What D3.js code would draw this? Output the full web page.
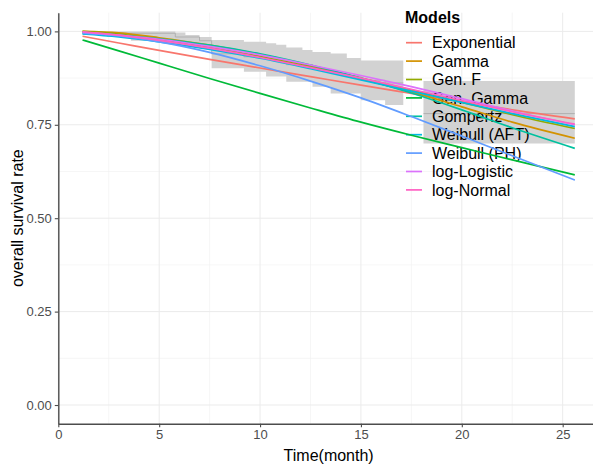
<!DOCTYPE html>
<html>
<head>
<meta charset="utf-8">
<script src="https://cdn.jsdelivr.net/npm/d3@7"></script>
<style>
  html, body { margin: 0; padding: 0; background: #fff; }
  svg { display: block; font-family: "Liberation Sans", Arial, sans-serif; }
</style>
</head>
<body>
<svg id="chart" width="593" height="469"></svg>
<script>
// ---- data ----
const models = ["Exponential", "Gamma", "Gen. F", "Gen. Gamma", "Gompertz",
                "Weibull (AFT)", "Weibull (PH)", "log-Logistic", "log-Normal"];
const colors = ["#F8766D", "#D39200", "#93AA00", "#00BA38", "#00C19F",
                "#00B9E3", "#619CFF", "#DB72FB", "#FF61C3"];
const times = [1.2, 3, 5, 7.5, 10, 12.5, 15, 17.5, 20, 22.5, 25.6];
const exponential = [0.987, 0.969, 0.949, 0.925, 0.902, 0.879, 0.856, 0.834, 0.812, 0.790, 0.766];
const gamma       = [1.000, 0.996, 0.983, 0.963, 0.938, 0.908, 0.873, 0.838, 0.798, 0.757, 0.714];
const genF        = [1.000, 0.993, 0.979, 0.958, 0.933, 0.905, 0.875, 0.843, 0.810, 0.777, 0.740];
const genGamma    = [0.977, 0.948, 0.915, 0.874, 0.834, 0.795, 0.757, 0.722, 0.689, 0.656, 0.616];
const gompertz    = [0.997, 0.990, 0.980, 0.963, 0.940, 0.910, 0.875, 0.835, 0.790, 0.742, 0.687];
const weibullAFT  = [0.993, 0.985, 0.972, 0.952, 0.928, 0.900, 0.870, 0.840, 0.810, 0.780, 0.745];
const weibullPH   = [0.995, 0.988, 0.972, 0.944, 0.908, 0.867, 0.822, 0.772, 0.720, 0.667, 0.602];
const logLogistic = [0.998, 0.990, 0.979, 0.960, 0.937, 0.910, 0.882, 0.852, 0.820, 0.787, 0.750];
const logNormal   = [0.999, 0.990, 0.976, 0.955, 0.930, 0.903, 0.875, 0.845, 0.815, 0.785, 0.752];
const seriesValues = [exponential, gamma, genF, genGamma, gompertz, weibullAFT, weibullPH, logLogistic, logNormal];

// Kaplan-Meier confidence band (step), null breaks the band
const bandTime  = [1.2, 2.4, 3.6, 5.0, 5.8, 6.3, 7.0, 7.6, 9.2, 10.3, 10.8, 11.3, 12.1, 12.6, 13.5, 14.3, 15.0, 16.2, 17.1, null, 18.1, 25.6];
const bandUpper = [1.000, 1.000, 1.000, 1.000, 0.997, 0.990, 0.985, 0.977, 0.972, 0.968, 0.964, 0.957, 0.950, 0.945, 0.941, 0.929, 0.922, 0.922, 0.922, null, 0.867, 0.867];
const bandLower = [0.990, 0.985, 0.975, 0.970, 0.965, 0.960, 0.955, 0.901, 0.892, 0.879, 0.879, 0.865, 0.865, 0.852, 0.834, 0.834, 0.816, 0.803, 0.803, null, 0.700, 0.700];
const kmTime = [1.2, 5.8, 7.0, 7.6, 9.2, 10.8, 11.3, 12.6, 13.5, 14.3, 15.0, 16.2, 17.1, null, 18.1, 25.6];
const kmSurv = [0.995, 0.985, 0.975, 0.940, 0.932, 0.921, 0.911, 0.898, 0.887, 0.881, 0.869, 0.862, 0.862, null, 0.780, 0.780];

const xTicks = [0, 5, 10, 15, 20, 25];
const xMinor = [2.5, 7.5, 12.5, 17.5, 22.5];
const yTicks = [0, 0.25, 0.5, 0.75, 1.0];
const yMinor = [0.125, 0.375, 0.625, 0.875];

// ---- layout ----
const svg = d3.select("#chart");
const L = 58.3, R = 599, T = 12.7, B = 423.7;
const x = d3.scaleLinear().domain([0, 26.8]).range([L, R]);
const y = d3.scaleLinear().domain([-0.05, 1.05]).range([B, T]);

// grid
const grid = svg.append("g");
grid.selectAll(".ym").data(yMinor).join("line")
  .attr("x1", L).attr("x2", R).attr("y1", d => y(d)).attr("y2", d => y(d))
  .attr("stroke", "#F0F0F0").attr("stroke-width", 0.6);
grid.selectAll(".xm").data(xMinor).join("line")
  .attr("y1", T).attr("y2", B).attr("x1", d => x(d)).attr("x2", d => x(d))
  .attr("stroke", "#F0F0F0").attr("stroke-width", 0.6);
grid.selectAll(".yM").data(yTicks).join("line")
  .attr("x1", L).attr("x2", R).attr("y1", d => y(d)).attr("y2", d => y(d))
  .attr("stroke", "#EBEBEB").attr("stroke-width", 1);
grid.selectAll(".xM").data(xTicks).join("line")
  .attr("y1", T).attr("y2", B).attr("x1", d => x(d)).attr("x2", d => x(d))
  .attr("stroke", "#EBEBEB").attr("stroke-width", 1);

// band
const bandData = bandTime.map((t, i) => ({t, lo: bandLower[i], hi: bandUpper[i]}));
const area = d3.area()
  .defined(d => d.t !== null)
  .x(d => x(d.t)).y0(d => y(d.lo)).y1(d => y(d.hi))
  .curve(d3.curveStepAfter);
svg.append("path").datum(bandData).attr("d", area)
  .attr("fill", "#D2D2D2").attr("stroke", "none");

const kmData = kmTime.map((t, i) => ({t, s: kmSurv[i]}));
svg.append("path").datum(kmData)
  .attr("d", d3.line().defined(d => d.t !== null).x(d => x(d.t)).y(d => y(d.s)).curve(d3.curveStepAfter))
  .attr("fill", "none").attr("stroke", "#A8A8A8").attr("stroke-width", 0.8);

// legend (drawn before lines, lines overlap it)
const lg = svg.append("g");
lg.append("text").attr("x", 405).attr("y", 22.8)
  .attr("font-size", 16).attr("font-weight", "bold").attr("fill", "#000").text("Models");
models.forEach((m, i) => {
  const cy = 42.7 + i * 18.4;
  lg.append("line").attr("x1", 406).attr("x2", 422).attr("y1", cy).attr("y2", cy)
    .attr("stroke", colors[i]).attr("stroke-width", 1.7);
  lg.append("text").attr("x", 432).attr("y", cy).attr("dy", "0.36em")
    .attr("font-size", 16).attr("fill", "#000").text(m);
});

// model lines
const line = d3.line().x(d => x(d[0])).y(d => y(d[1])).curve(d3.curveMonotoneX);
seriesValues.forEach((vals, i) => {
  svg.append("path").datum(times.map((t, j) => [t, vals[j]]))
    .attr("d", line).attr("fill", "none")
    .attr("stroke", colors[i]).attr("stroke-width", 1.7);
});

// axes
const xAxis = svg.append("g").attr("transform", `translate(0,${B})`)
  .call(d3.axisBottom(x).tickValues(xTicks).tickFormat(d3.format("d")).tickSize(3.5).tickSizeOuter(0).tickPadding(3));
const yAxis = svg.append("g").attr("transform", `translate(${L},0)`)
  .call(d3.axisLeft(y).tickValues(yTicks).tickFormat(d3.format(".2f")).tickSize(3.5).tickSizeOuter(0).tickPadding(3));
[xAxis, yAxis].forEach(a => {
  a.select(".domain").attr("stroke", "#4D4D4D").attr("stroke-width", 1.4);
  a.selectAll(".tick line").attr("stroke", "#4D4D4D").attr("stroke-width", 1.1);
  a.selectAll(".tick text").attr("fill", "#4D4D4D").attr("font-size", 13)
    .attr("font-family", "Liberation Sans, Arial, sans-serif");
});

// titles
svg.append("text").attr("x", (L + R) / 2).attr("y", 461).attr("text-anchor", "middle")
  .attr("font-size", 16).attr("fill", "#000").text("Time(month)");
svg.append("text").attr("transform", `translate(23,${(T + B) / 2}) rotate(-90)`)
  .attr("text-anchor", "middle").attr("font-size", 16).attr("fill", "#000").text("overall survival rate");
</script>
</body>
</html>
